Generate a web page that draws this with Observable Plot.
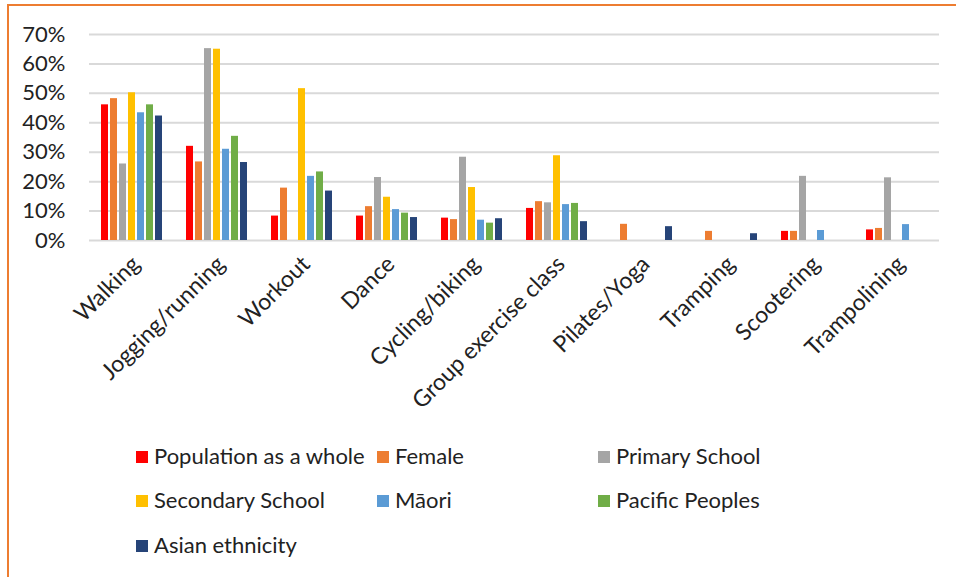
<!DOCTYPE html>
<html>
<head>
<meta charset="utf-8">
<script src="https://cdn.jsdelivr.net/npm/d3@7"></script>
<script src="https://cdn.jsdelivr.net/npm/@observablehq/plot@0.6"></script>
<style>
  html, body { margin: 0; padding: 0; background: #fff; overflow: hidden; width: 956px; height: 577px; }
  #frame { position: absolute; left: 7px; top: 4px; width: 1000px; height: 700px; border-left: 2px solid #ED7D31; border-top: 2px solid #ED7D31; }
  #chart { position: absolute; left: 0; top: 0; }
  .lg { position: absolute; font-family: Lato, "Open Sans", sans-serif; font-size: 22px; color: #222; white-space: nowrap; line-height: 22px; }
  .lg span.sw { display: inline-block; width: 12px; height: 12px; margin-right: 6px; vertical-align: 1px; }
</style>
</head>
<body>
<div id="frame"></div>
<div id="chart"></div>
<div id="legend"></div>
<script>
const categories = ["Walking", "Jogging/running", "Workout", "Dance", "Cycling/biking", "Group exercise class", "Pilates/Yoga", "Tramping", "Scootering", "Trampolining"];
const groups = ["Population as a whole", "Female", "Primary School", "Secondary School", "Māori", "Pacific Peoples", "Asian ethnicity"];
const colors = ["#FF0000", "#ED7D31", "#A5A5A5", "#FFC000", "#5B9BD5", "#70AD47", "#264478"];

const population = [46.1, 32.0, 8.3, 8.3, 7.6, 10.9, null, null, 3.1, 3.6];
const female     = [48.2, 26.7, 17.8, 11.5, 7.1, 13.2, 5.5, 3.1, 3.1, 4.1];
const primary    = [26.0, 65.2, null, 21.4, 28.3, 12.8, null, null, 21.8, 21.3];
const secondary  = [50.2, 65.0, 51.6, 14.7, 18.0, 28.8, null, null, null, null];
const maori      = [43.4, 31.0, 21.8, 10.5, 6.9, 12.2, null, null, 3.4, 5.4];
const pacific    = [46.1, 35.4, 23.3, 9.3, 5.9, 12.6, null, null, null, null];
const asian      = [42.3, 26.5, 16.8, 7.8, 7.4, 6.4, 4.7, 2.3, null, null];

const yTicks = [0, 10, 20, 30, 40, 50, 60, 70];

const series = [population, female, primary, secondary, maori, pacific, asian];
const data = [];
series.forEach((vals, gi) => {
  vals.forEach((v, ci) => {
    if (v != null) data.push({activity: categories[ci], group: groups[gi], value: v});
  });
});

const font = "Lato, 'Open Sans', sans-serif";

const chart = Plot.plot({
  width: 956,
  height: 430,
  marginLeft: 89,
  marginRight: 17,
  marginTop: 34,
  marginBottom: 190,
  style: {fontFamily: font, fontSize: "22px", color: "#222", background: "transparent", overflow: "visible"},
  fx: {domain: categories, padding: 0, label: null},
  x: {domain: groups, paddingInner: 0.2, paddingOuter: 1, axis: null},
  y: {domain: [0, 70], label: null},
  color: {domain: groups, range: colors},
  marks: [
    Plot.gridY(yTicks, {stroke: "#D9D9D9", strokeOpacity: 1, strokeWidth: 2}),
    Plot.barY(data, {fx: "activity", x: "group", y: "value", fill: "group"}),
    Plot.axisY(yTicks, {tickSize: 0, tickPadding: 24, tickFormat: d => d + "%", fontSize: 22}),
    Plot.axisFx({anchor: "bottom", tickSize: 0, tickRotate: -45, fontSize: 23, dx: 4, dy: 8, label: null})
  ]
});
document.getElementById("chart").appendChild(chart);

// legend
const legend = document.getElementById("legend");
const legendPos = [[136, 456], [377, 456], [598, 456], [136, 500], [377, 500], [598, 500], [136, 545]];
groups.forEach((g, i) => {
  const d = document.createElement("div");
  d.className = "lg";
  d.style.left = legendPos[i][0] + "px";
  d.style.top = (legendPos[i][1] - 11) + "px";
  const sw = document.createElement("span");
  sw.className = "sw";
  sw.style.background = colors[i];
  d.appendChild(sw);
  d.appendChild(document.createTextNode(g));
  legend.appendChild(d);
});
</script>
</body>
</html>
